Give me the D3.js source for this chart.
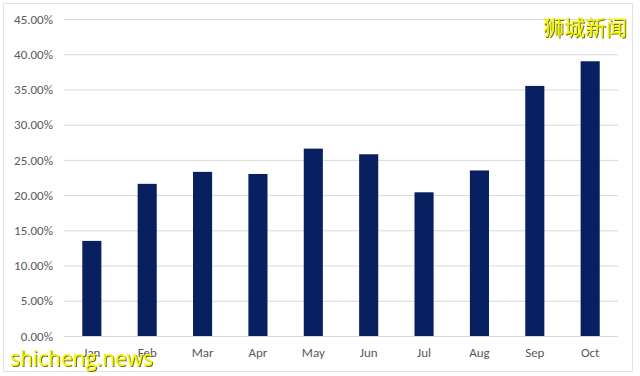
<!DOCTYPE html>
<html><head><meta charset="utf-8">
<script src="https://cdn.jsdelivr.net/npm/d3@7"></script>
<style>body{margin:0;background:#fff}svg{display:block}</style>
</head><body>
<svg id="c" width="640" height="376"></svg>
<script>
const categories = ["Jan","Feb","Mar","Apr","May","Jun","Jul","Aug","Sep","Oct"];
const values = [0.135,0.216,0.233,0.230,0.266,0.258,0.204,0.235,0.355,0.390];
const yTicks = [0,0.05,0.10,0.15,0.20,0.25,0.30,0.35,0.40,0.45];

const svg = d3.select("#c");
const m = {left:64, right:618, top:19, bottom:336};
const f = svg.append("defs").append("filter").attr("id","sh")
  .attr("x","-10%").attr("y","-20%").attr("width","130%").attr("height","150%");
f.append("feDropShadow").attr("dx",1).attr("dy",1).attr("stdDeviation",0.3)
  .attr("flood-color","#606000").attr("flood-opacity",0.9);

svg.append("rect").attr("x",3.5).attr("y",3.5).attr("width",629).attr("height",368)
  .attr("fill","#fff").attr("stroke","#e2e2e2");

const x = d3.scaleBand().domain(categories).range([m.left,m.right]).paddingInner(0.655).paddingOuter(0.33);
const y = d3.scaleLinear().domain([0,0.45]).range([m.bottom,m.top]);

const grid = svg.append("g").attr("transform",`translate(${m.left},0)`)
  .call(d3.axisLeft(y).tickValues(yTicks).tickSize(-(m.right-m.left)).tickFormat(d3.format(".2%")));
grid.select(".domain").remove();
grid.selectAll(".tick line").attr("stroke","#d9d9d9").attr("stroke-width",1);
grid.selectAll(".tick text").attr("x",-11).attr("fill","#595959")
  .style("font-family","Carlito, Calibri, 'Open Sans', sans-serif").style("font-size","13px");

svg.selectAll("rect.bar").data(values).enter().append("rect").attr("class","bar")
  .attr("x",(d,i)=>x(categories[i])).attr("width",x.bandwidth())
  .attr("y",d=>y(d)).attr("height",d=>y(0)-y(d)).attr("fill","#082060");

const xa = svg.append("g").attr("transform",`translate(0,${m.bottom})`)
  .call(d3.axisBottom(x).tickSize(0).tickPadding(12));
xa.select(".domain").remove();
xa.selectAll("text").attr("fill","#595959")
  .style("font-family","Carlito, Calibri, 'Open Sans', sans-serif").style("font-size","13px");

svg.append("text").attr("x",627).attr("y",35).attr("text-anchor","end")
  .attr("fill","#f5f500").attr("filter","url(#sh)")
  .style("font-family","'Noto Sans CJK SC', sans-serif").style("font-size","21px").text("狮城新闻");
svg.append("text").attr("x",10).attr("y",366)
  .attr("fill","#f5f500").attr("filter","url(#sh)")
  .style("font-family","'Open Sans', sans-serif").style("font-size","22px")
  .attr("textLength",143).attr("lengthAdjust","spacingAndGlyphs").text("shicheng.news");
</script>
</body></html>
